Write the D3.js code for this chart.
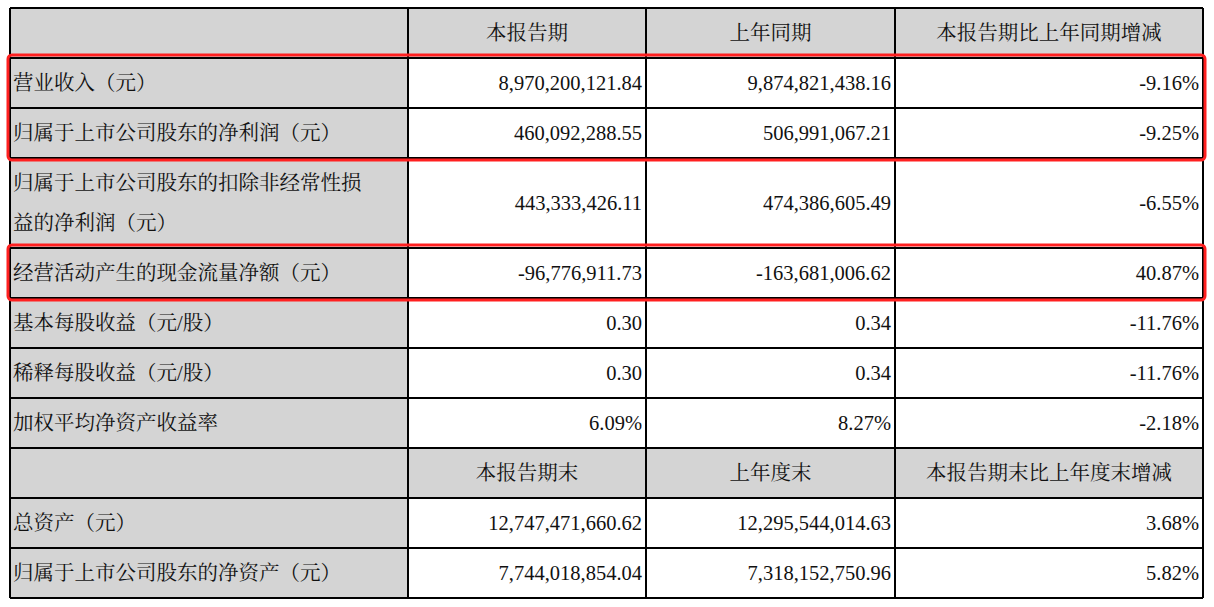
<!DOCTYPE html>
<html><head><meta charset="utf-8">
<script src="https://cdn.jsdelivr.net/npm/d3@7"></script>
<style>body{margin:0;background:#fff}</style>
</head><body><div id="chart"></div>
<script>
// column headers for the two sections
const headers1 = ["", "本报告期", "上年同期", "本报告期比上年同期增减"];
const headers2 = ["", "本报告期末", "上年度末", "本报告期末比上年度末增减"];
const labels1 = ["营业收入（元）", "归属于上市公司股东的净利润（元）", ["归属于上市公司股东的扣除非经常性损", "益的净利润（元）"], "经营活动产生的现金流量净额（元）", "基本每股收益（元/股）", "稀释每股收益（元/股）", "加权平均净资产收益率"];
const current1 = ["8,970,200,121.84", "460,092,288.55", "443,333,426.11", "-96,776,911.73", "0.30", "0.30", "6.09%"];
const prior1 = ["9,874,821,438.16", "506,991,067.21", "474,386,605.49", "-163,681,006.62", "0.34", "0.34", "8.27%"];
const change1 = ["-9.16%", "-9.25%", "-6.55%", "40.87%", "-11.76%", "-11.76%", "-2.18%"];
const labels2 = ["总资产（元）", "归属于上市公司股东的净资产（元）"];
const current2 = ["12,747,471,660.62", "7,744,018,854.04"];
const prior2 = ["12,295,544,014.63", "7,318,152,750.96"];
const change2 = ["3.68%", "5.82%"];
const highlighted = [[0, 1], [3, 3]]; // row index ranges in section 1

const colEdges = [10, 408, 646, 895, 1203];
const rows = [];
rows.push({type: "h", cells: headers1, h: 1});
labels1.forEach((l, i) => rows.push({type: "d", cells: [l, current1[i], prior1[i], change1[i]], h: Array.isArray(l) ? 1.8 : 1}));
rows.push({type: "h", cells: headers2, h: 1});
labels2.forEach((l, i) => rows.push({type: "d", cells: [l, current2[i], prior2[i], change2[i]], h: 1}));

const unit = 50;
let acc = 8;
rows.forEach(r => { r.y0 = acc; acc += r.h * unit; r.y1 = acc; });

const svg = d3.select("#chart").append("svg").attr("width", 1214).attr("height", 607);
const x = d3.scaleOrdinal().domain([0, 1, 2, 3, 4]).range(colEdges);
const font = "'Liberation Serif','Noto Serif CJK SC','Noto Sans CJK SC',serif";
const fs = 20.5;

// grey fills
rows.forEach(r => {
  if (r.type === "h") svg.append("rect").attr("x", x(0)).attr("y", r.y0).attr("width", x(4) - x(0)).attr("height", r.y1 - r.y0).attr("fill", "#d4d4d4");
  else svg.append("rect").attr("x", x(0)).attr("y", r.y0).attr("width", x(1) - x(0)).attr("height", r.y1 - r.y0).attr("fill", "#d4d4d4");
});

// text
rows.forEach(r => {
  r.cells.forEach((c, j) => {
    const yc = (r.y0 + r.y1) / 2;
    if (r.type === "h") {
      svg.append("text").attr("x", (x(j) + x(j + 1)) / 2).attr("y", yc).attr("dy", "0.35em")
        .attr("text-anchor", "middle").attr("font-family", font).attr("font-size", fs).attr("fill", "#111").text(c);
    } else if (j === 0) {
      const lines = Array.isArray(c) ? c : [c];
      lines.forEach((ln, k) => svg.append("text").attr("x", x(0) + 3)
        .attr("y", yc + (k - (lines.length - 1) / 2) * 40).attr("dy", "0.35em")
        .attr("font-family", font).attr("font-size", fs).attr("fill", "#111").text(ln));
    } else {
      svg.append("text").attr("x", x(j + 1) - 4).attr("y", yc).attr("dy", "0.35em")
        .attr("text-anchor", "end").attr("font-family", font).attr("font-size", fs).attr("fill", "#111").text(c);
    }
  });
});

// grid lines
rows.forEach(r => svg.append("line").attr("x1", x(0)).attr("x2", x(4)).attr("y1", r.y0).attr("y2", r.y0).attr("stroke", "#000").attr("stroke-width", 2));
svg.append("line").attr("x1", x(0)).attr("x2", x(4)).attr("y1", acc).attr("y2", acc).attr("stroke", "#000").attr("stroke-width", 2);
colEdges.forEach(cx => svg.append("line").attr("x1", cx).attr("x2", cx).attr("y1", 8).attr("y2", acc).attr("stroke", "#000").attr("stroke-width", 2));

// red highlight boxes
highlighted.forEach(([a, b]) => {
  const top = rows[a + 1].y0, bot = rows[b + 1].y1;
  svg.append("rect").attr("x", 8).attr("y", top - 3).attr("width", 1197).attr("height", bot - top + 5)
    .attr("rx", 4).attr("fill", "none").attr("stroke", "#ff2020").attr("stroke-width", 3);
});
</script></body></html>
